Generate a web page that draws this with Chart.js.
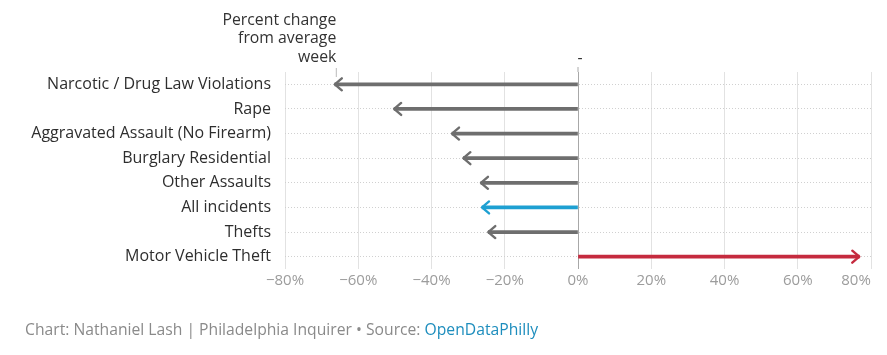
<!DOCTYPE html>
<html><head><meta charset="utf-8">
<script src="https://cdn.jsdelivr.net/npm/chart.js@4"></script>
<style>
html,body{margin:0;padding:0;background:#fff;}
#wrap{position:relative;width:887px;height:355px;}
#footer{position:absolute;left:25px;top:318px;font:15.7px "Open Sans",sans-serif;color:#8a8a8a;white-space:nowrap;}
#footer span{color:#1d8dbd;}
</style></head>
<body>
<div id="wrap"><canvas id="c" width="887" height="355"></canvas>
<div id="footer">Chart: Nathaniel Lash | Philadelphia Inquirer • Source: <span>OpenDataPhilly</span></div></div>
<script>
const categories = ["Narcotic / Drug Law Violations","Rape","Aggravated Assault (No Firearm)","Burglary Residential","Other Assaults","All incidents","Thefts","Motor Vehicle Theft"];
const values = [-66.4,-50.2,-34.4,-31.3,-26.5,-26.2,-24.5,76.8];
const colors = ["#6e6e6e","#6e6e6e","#6e6e6e","#6e6e6e","#6e6e6e","#1ea0d2","#6e6e6e","#c52a3e"];
const tickValues = [-80,-60,-40,-20,0,20,40,60,80];
const annotationLines = ["Percent change","from average","week"];
const FONT = "'Open Sans', sans-serif";

const arrowPlugin = {
  id:'arrows',
  afterDatasetsDraw(chart){
    const ctx = chart.ctx;
    const meta = chart.getDatasetMeta(0);
    meta.data.forEach((el,i)=>{
      const x = el.x, y = el.y, v = values[i];
      const dir = v < 0 ? 1 : -1;
      ctx.save();
      ctx.strokeStyle = colors[i];
      ctx.lineWidth = 2.4;
      ctx.lineCap = 'round';
      ctx.lineJoin = 'round';
      ctx.beginPath();
      ctx.moveTo(x + dir*7, y - 6);
      ctx.lineTo(x, y);
      ctx.lineTo(x + dir*7, y + 6);
      ctx.stroke();
      ctx.restore();
    });
  },
  afterDraw(chart){
    const ctx = chart.ctx;
    const xs = chart.scales.x;
    const meta = chart.getDatasetMeta(0);
    const first = meta.data[0];
    const top = chart.chartArea.top;
    ctx.save();
    ctx.fillStyle = '#333';
    ctx.font = '15.8px ' + FONT;
    ctx.textAlign = 'right';
    ctx.textBaseline = 'middle';
    annotationLines.forEach((t,k)=>{ ctx.fillText(t, first.x + 1.5, 20 + k*18.5); });
    ctx.strokeStyle = '#bbb';
    ctx.lineWidth = 1;
    ctx.beginPath(); ctx.moveTo(first.x+1.5, top-4); ctx.lineTo(first.x+1.5, top+5); ctx.stroke();
    const x0 = xs.getPixelForValue(0);
    ctx.strokeStyle = '#aaa';
    ctx.beginPath(); ctx.moveTo(x0, top-5); ctx.lineTo(x0, top); ctx.stroke();
    ctx.fillStyle = '#333';
    ctx.textAlign = 'center';
    ctx.fillText('-', x0+2, 58);
    ctx.restore();
  }
};

new Chart(document.getElementById('c'), {
  type:'bar',
  data:{ labels:categories, datasets:[{ data:values, backgroundColor:colors, barThickness:3, borderWidth:0 }] },
  options:{
    indexAxis:'y',
    responsive:false,
    animation:false,
    layout:{ padding:{ top:72, right:16, bottom:62, left:0 } },
    plugins:{ legend:{display:false}, tooltip:{enabled:false} },
    scales:{
      x:{
        min:-80, max:80,
        afterBuildTicks(s){ s.ticks = tickValues.map(v=>({value:v})); },
        afterFit(s){ s.height = 24; s.paddingLeft = 0; s.paddingRight = 0; },
        border:{display:false},
        grid:{ color:(c)=> c.tick && c.tick.value===0 ? '#a8a8a8' : '#e2e2e2', lineWidth:1, drawTicks:false },
        ticks:{ padding:3, color:'#9c9c9c', font:{family:FONT,size:15},
          callback:(v)=> (v<0?'\u2212'+Math.abs(v):v) + '%' + (v===80 ? '\u2003\u2003' : '') }
      },
      y:{
        afterFit(s){ s.width = 285; },
        border:{display:false, dash:[1,2]},
        grid:{ color:'#d0d0d0', drawTicks:false, offset:false },
        ticks:{ padding:14, color:'#2e2e2e', font:{family:FONT,size:16} }
      }
    }
  },
  plugins:[arrowPlugin]
});
</script>
</body></html>
